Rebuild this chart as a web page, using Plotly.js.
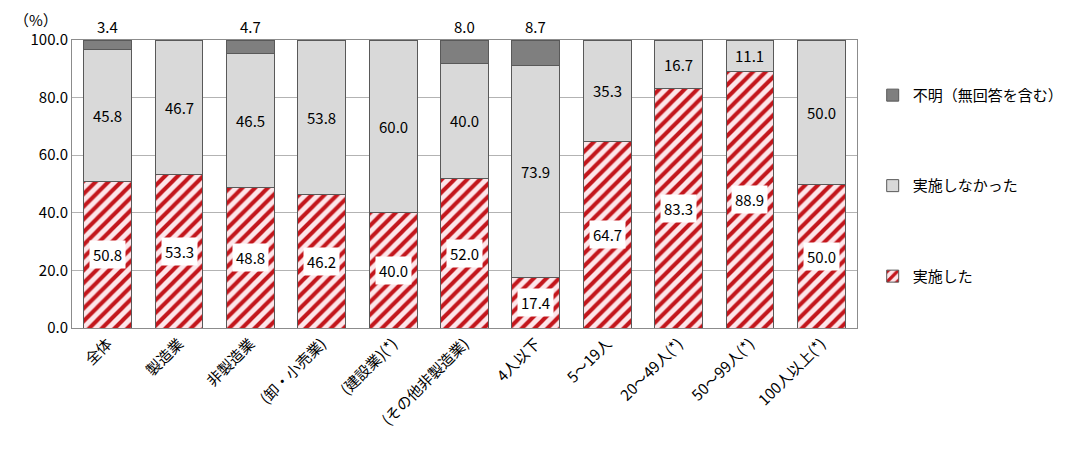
<!DOCTYPE html>
<html><head><meta charset="utf-8">
<script src="https://cdn.plot.ly/plotly-3.0.1.min.js"></script>
<style>html,body{margin:0;padding:0;background:#fff}#c{width:1081px;height:462px}</style>
</head><body><div id="c"></div>
<script>
const categories = ['全体','製造業','非製造業','(卸・小売業)','(建設業)(*)','(その他非製造業)','4人以下','5～19人','20～49人(*)','50～99人(*)','100人以上(*)'];
const done = [50.8, 53.3, 48.8, 46.2, 40.0, 52.0, 17.4, 64.7, 83.3, 88.9, 50.0];
const notDone = [45.8, 46.7, 46.5, 53.8, 60.0, 40.0, 73.9, 35.3, 16.7, 11.1, 50.0];
const unknown = [3.4, 0, 4.7, 0, 0, 8.0, 8.7, 0, 0, 0, 0];
const yTicks = [0, 20, 40, 60, 80, 100];

const FONT = '"Noto Sans CJK JP", "Noto Sans", sans-serif';
const lineStyle = {color: '#595959', width: 1};

const traces = [
  {type: 'bar', name: '実施した', x: categories, y: done, legendgroup: 'a', legendrank: 3,
   marker: {color: '#fbe3e8', line: lineStyle,
     pattern: {shape: '/', fgcolor: '#c3161c', bgcolor: '#fde6ea', size: 9, solidity: 0.45}},
   hoverinfo: 'y'},
  {type: 'bar', name: '実施しなかった', x: categories, y: notDone, legendgroup: 'b', legendrank: 2,
   marker: {color: '#d9d9d9', line: lineStyle}, hoverinfo: 'y'},
  {type: 'bar', name: '不明（無回答を含む）', x: categories, y: unknown, legendgroup: 'c', legendrank: 1,
   marker: {color: '#7f7f7f', line: lineStyle}, hoverinfo: 'y'}
];

const annotations = [];
categories.forEach((c, i) => {
  annotations.push({x: c, y: done[i] / 2, xref: 'x', yref: 'y', text: done[i].toFixed(1),
    showarrow: false, bgcolor: '#ffffff', font: {size: 15, color: '#000', family: FONT}, borderpad: 3});
  annotations.push({x: c, y: done[i] + notDone[i] / 2, xref: 'x', yref: 'y', text: notDone[i].toFixed(1),
    showarrow: false, font: {size: 15, color: '#000', family: FONT}});
  if (unknown[i] > 0) {
    annotations.push({x: c, y: 100, xref: 'x', yref: 'y', yanchor: 'bottom', yshift: 1, text: unknown[i].toFixed(1),
      showarrow: false, font: {size: 15, color: '#000', family: FONT}});
  }
});
annotations.push({x: -0.046, y: 1.07, xref: 'paper', yref: 'paper', xanchor: 'center', yanchor: 'middle',
  text: '（%）', showarrow: false, font: {size: 15, color: '#000', family: FONT}});

const layout = {
  width: 1081, height: 462,
  margin: {l: 72, r: 219, t: 40, b: 134},
  barmode: 'stack', bargap: 0.33,
  paper_bgcolor: '#fff', plot_bgcolor: '#fff',
  font: {family: FONT, size: 15, color: '#000'},
  showlegend: true,
  legend: {x: 1.02, xanchor: 'left', y: 0.865, yanchor: 'top', traceorder: 'grouped',
    tracegroupgap: 68, font: {size: 15, family: FONT}, itemwidth: 30},
  xaxis: {type: 'category', tickangle: -45, tickfont: {size: 15, family: FONT},
    showline: true, linecolor: '#8c8c8c', mirror: true, ticks: '', showgrid: false},
  yaxis: {range: [0, 100], tickvals: yTicks, ticktext: yTicks.map(v => v.toFixed(1)),
    tickfont: {size: 15, family: FONT}, showgrid: true, gridcolor: '#b3b3b3', gridwidth: 1,
    showline: true, linecolor: '#8c8c8c', mirror: true, ticks: '', zeroline: false},
  annotations: annotations
};

Plotly.newPlot('c', traces, layout, {displayModeBar: false, staticPlot: true});
</script>
</body></html>
